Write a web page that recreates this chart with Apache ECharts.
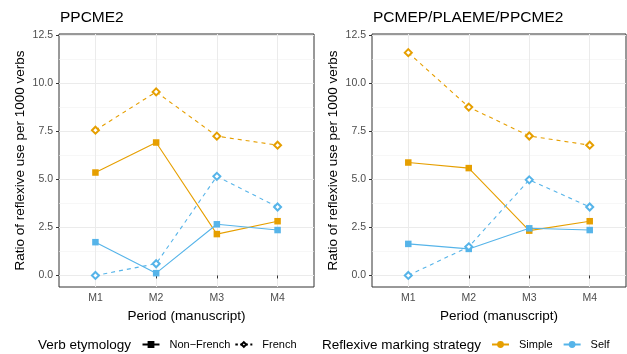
<!DOCTYPE html>
<html><head><meta charset="utf-8">
<script src="https://cdn.jsdelivr.net/npm/echarts@6/dist/echarts.min.js"></script>
<style>html,body{margin:0;padding:0;background:#fff}#c{width:627px;height:354px}</style>
</head><body><div id="c"></div>
<script>
const periods = ['M1','M2','M3','M4'];
const yTicks = [0, 2.5, 5, 7.5, 10, 12.5];
const yMinorTicks = [1.25, 3.75, 6.25, 8.75, 11.25];
const panelTitles = ['PPCME2', 'PCMEP/PLAEME/PPCME2'];
// PPCME2
const p1SimpleNonFrench = [5.35, 6.91, 2.15, 2.82];
const p1SimpleFrench    = [7.55, 9.54, 7.24, 6.77];
const p1SelfNonFrench   = [1.73, 0.12, 2.66, 2.36];
const p1SelfFrench      = [0.00, 0.61, 5.15, 3.56];
// PCMEP/PLAEME/PPCME2
const p2SimpleNonFrench = [5.87, 5.58, 2.33, 2.82];
const p2SimpleFrench    = [11.58, 8.75, 7.25, 6.77];
const p2SelfNonFrench   = [1.64, 1.38, 2.45, 2.36];
const p2SelfFrench      = [0.00, 1.49, 4.97, 3.56];

const ORANGE = '#E69F00', BLUE = '#56B4E9';
const FONT = 'Liberation Sans';
const chart = echarts.init(document.getElementById('c'), null, {renderer:'canvas'});

const grids = [
  {left: 59, top: 34, width: 255, height: 253},
  {left: 372, top: 34, width: 254, height: 253}
];
const xAxes = [], yAxes = [], series = [];
grids.forEach((g, i) => {
  xAxes.push({
    type: 'value', gridIndex: i, min: 0.4, max: 4.6,
    name: 'Period (manuscript)', nameLocation: 'middle', nameGap: 18,
    nameTextStyle: {fontFamily: FONT, fontSize: 13.5, color: '#000'},
    axisLine: {show: false},
    axisTick: {show: true, length: 3, customValues: [1,2,3,4], lineStyle: {color: '#333', width: 1}},
    axisLabel: {customValues: [1,2,3,4], formatter: v => periods[Math.round(v)-1], fontFamily: FONT, fontSize: 10.5, color: '#4D4D4D', margin: 6},
    splitLine: {show: true, lineStyle: {color: '#EBEBEB', width: 1}}
  });
  yAxes.push({
    type: 'value', gridIndex: i, min: -0.6, max: 12.55,
    name: 'Ratio of reflexive use per 1000 verbs', nameLocation: 'middle', nameGap: 32, nameRotate: 90,
    nameTextStyle: {fontFamily: FONT, fontSize: 13.5, color: '#000'},
    axisLine: {show: false},
    axisTick: {show: true, length: 3, customValues: yTicks, lineStyle: {color: '#333', width: 1}},
    axisLabel: {customValues: yTicks, formatter: v => v.toFixed(1), fontFamily: FONT, fontSize: 10.5, color: '#4D4D4D', margin: 6},
    splitLine: {show: true, lineStyle: {color: '#EBEBEB', width: 1}}
  });
  yAxes.push({
    type: 'value', gridIndex: i, min: -0.6, max: 12.55, position: 'left',
    axisLine: {show: false}, axisTick: {show: false, customValues: yMinorTicks},
    axisLabel: {show: false, customValues: yMinorTicks},
    splitLine: {show: true, lineStyle: {color: '#F2F2F2', width: 0.6}}
  });
});

function mk(name, vals, gi, color, french) {
  return {
    type: 'line', name: name, xAxisIndex: gi, yAxisIndex: gi*2,
    data: vals.map((v, k) => [k+1, v]),
    color: color,
    symbol: french ? 'emptyDiamond' : 'rect',
    symbolSize: french ? 7 : 6.5,
    showSymbol: true,
    lineStyle: {color: color, width: 1.1, type: french ? [4,4] : 'solid'},
    itemStyle: {color: color, borderColor: color, borderWidth: french ? 1 : 0},
    silent: true, animation: false, z: 3
  };
}
[[p1SimpleNonFrench,p1SimpleFrench,p1SelfNonFrench,p1SelfFrench],
 [p2SimpleNonFrench,p2SimpleFrench,p2SelfNonFrench,p2SelfFrench]].forEach((p, gi) => {
  series.push(mk('s'+gi+'a', p[0], gi, ORANGE, false));
  series.push(mk('s'+gi+'b', p[1], gi, ORANGE, true));
  series.push(mk('s'+gi+'c', p[2], gi, BLUE, false));
  series.push(mk('s'+gi+'d', p[3], gi, BLUE, true));
});
// legend dummy series
function dummy(name, color, symbol, size, dashed) {
  return {type:'line', name:name, xAxisIndex:0, yAxisIndex:0, data:[], color: color,
    symbol: symbol, symbolSize: size,
    lineStyle:{color:color, width:1.1, type: dashed ? [2.5,2.5] : 'solid'},
    itemStyle:{color:color, borderColor:color, borderWidth: 1}};
}
series.push(dummy('Non\u2212French', '#000', 'rect', 5, false));
series.push(dummy('French', '#000', 'emptyDiamond', 5, true));
series.push(dummy('Simple', ORANGE, 'circle', 5, false));
series.push(dummy('Self', BLUE, 'circle', 5, false));

const gridOpts = grids.map(g => Object.assign({show: true, borderColor: '#333', borderWidth: 1, backgroundColor: '#fff'}, g));

chart.setOption({
  animation: false,
  backgroundColor: '#fff',
  grid: gridOpts,
  xAxis: xAxes,
  yAxis: yAxes,
  title: [
    {text: panelTitles[0], left: 55, top: 5, textStyle: {fontFamily: FONT, fontSize: 15.5, fontWeight: 'normal', color: '#000'}},
    {text: panelTitles[1], left: 368, top: 5, textStyle: {fontFamily: FONT, fontSize: 15.5, fontWeight: 'normal', color: '#000'}}
  ],
  legend: [
    {data: ['Non\u2212French','French'], left: 136.5, top: 334, padding: 5, itemWidth: 17, itemHeight: 6, itemGap: 4,
     textStyle: {fontFamily: FONT, fontSize: 11, color: '#000', padding: [0,0,0,5]}},
    {data: ['Simple','Self'], left: 486, top: 334, padding: 5, itemWidth: 17, itemHeight: 6, itemGap: 10,
     textStyle: {fontFamily: FONT, fontSize: 11, color: '#000', padding: [0,0,0,5]}}
  ],
  graphic: [
    {type: 'text', x: 38, y: 345, style: {text: 'Verb etymology', font: '13.5px "Liberation Sans"', fill: '#000', verticalAlign: 'middle'}},
    {type: 'text', x: 322, y: 345, style: {text: 'Reflexive marking strategy', font: '13.5px "Liberation Sans"', fill: '#000', verticalAlign: 'middle'}}
  ],
  series: series
});
</script></body></html>
